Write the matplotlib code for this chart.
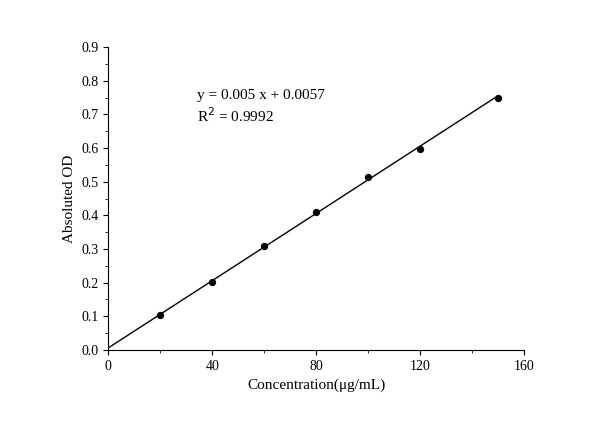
import matplotlib
matplotlib.use('Agg')
import matplotlib.pyplot as plt
import numpy as np

conc = [20, 40, 60, 80, 100, 120, 150]
od = [0.105, 0.203, 0.31, 0.41, 0.515, 0.597, 0.75]
slope, intercept = 0.005, 0.0057

plt.rcParams['font.family'] = 'Liberation Serif'
fig = plt.figure(figsize=(6.08, 4.21), dpi=100)
ax = fig.add_axes([0.178, 0.169, 0.684, 0.719])

xl = np.array([0, 150])
ax.plot(xl, slope * xl + intercept, color='black', lw=1)
ax.scatter(conc, od, color='black', s=18, zorder=3)

ax.set_xlim(0, 160)
ax.set_ylim(0, 0.9)
ax.set_xticks([0, 40, 80, 120, 160])
ax.set_yticks(np.arange(0, 0.91, 0.1))
ax.set_yticklabels([f'{v:.1f}' for v in np.arange(0, 0.91, 0.1)])
ax.set_xticks([20, 60, 100, 140], minor=True)
ax.set_yticks(np.arange(0.05, 0.9, 0.1), minor=True)
ax.tick_params(direction='out', labelsize=10)
ax.spines['top'].set_visible(False)
ax.spines['right'].set_visible(False)

ax.set_xlabel('Concentration(μg/mL)', fontsize=11)
ax.set_ylabel('Absoluted OD', fontsize=11)
ax.text(34, 0.757, 'y = 0.005 x + 0.0057', fontsize=11, va='center')
ax.text(34, 0.695, 'R$^2$ = 0.9992', fontsize=11, va='center')

fig.savefig('out.png', dpi=100)
